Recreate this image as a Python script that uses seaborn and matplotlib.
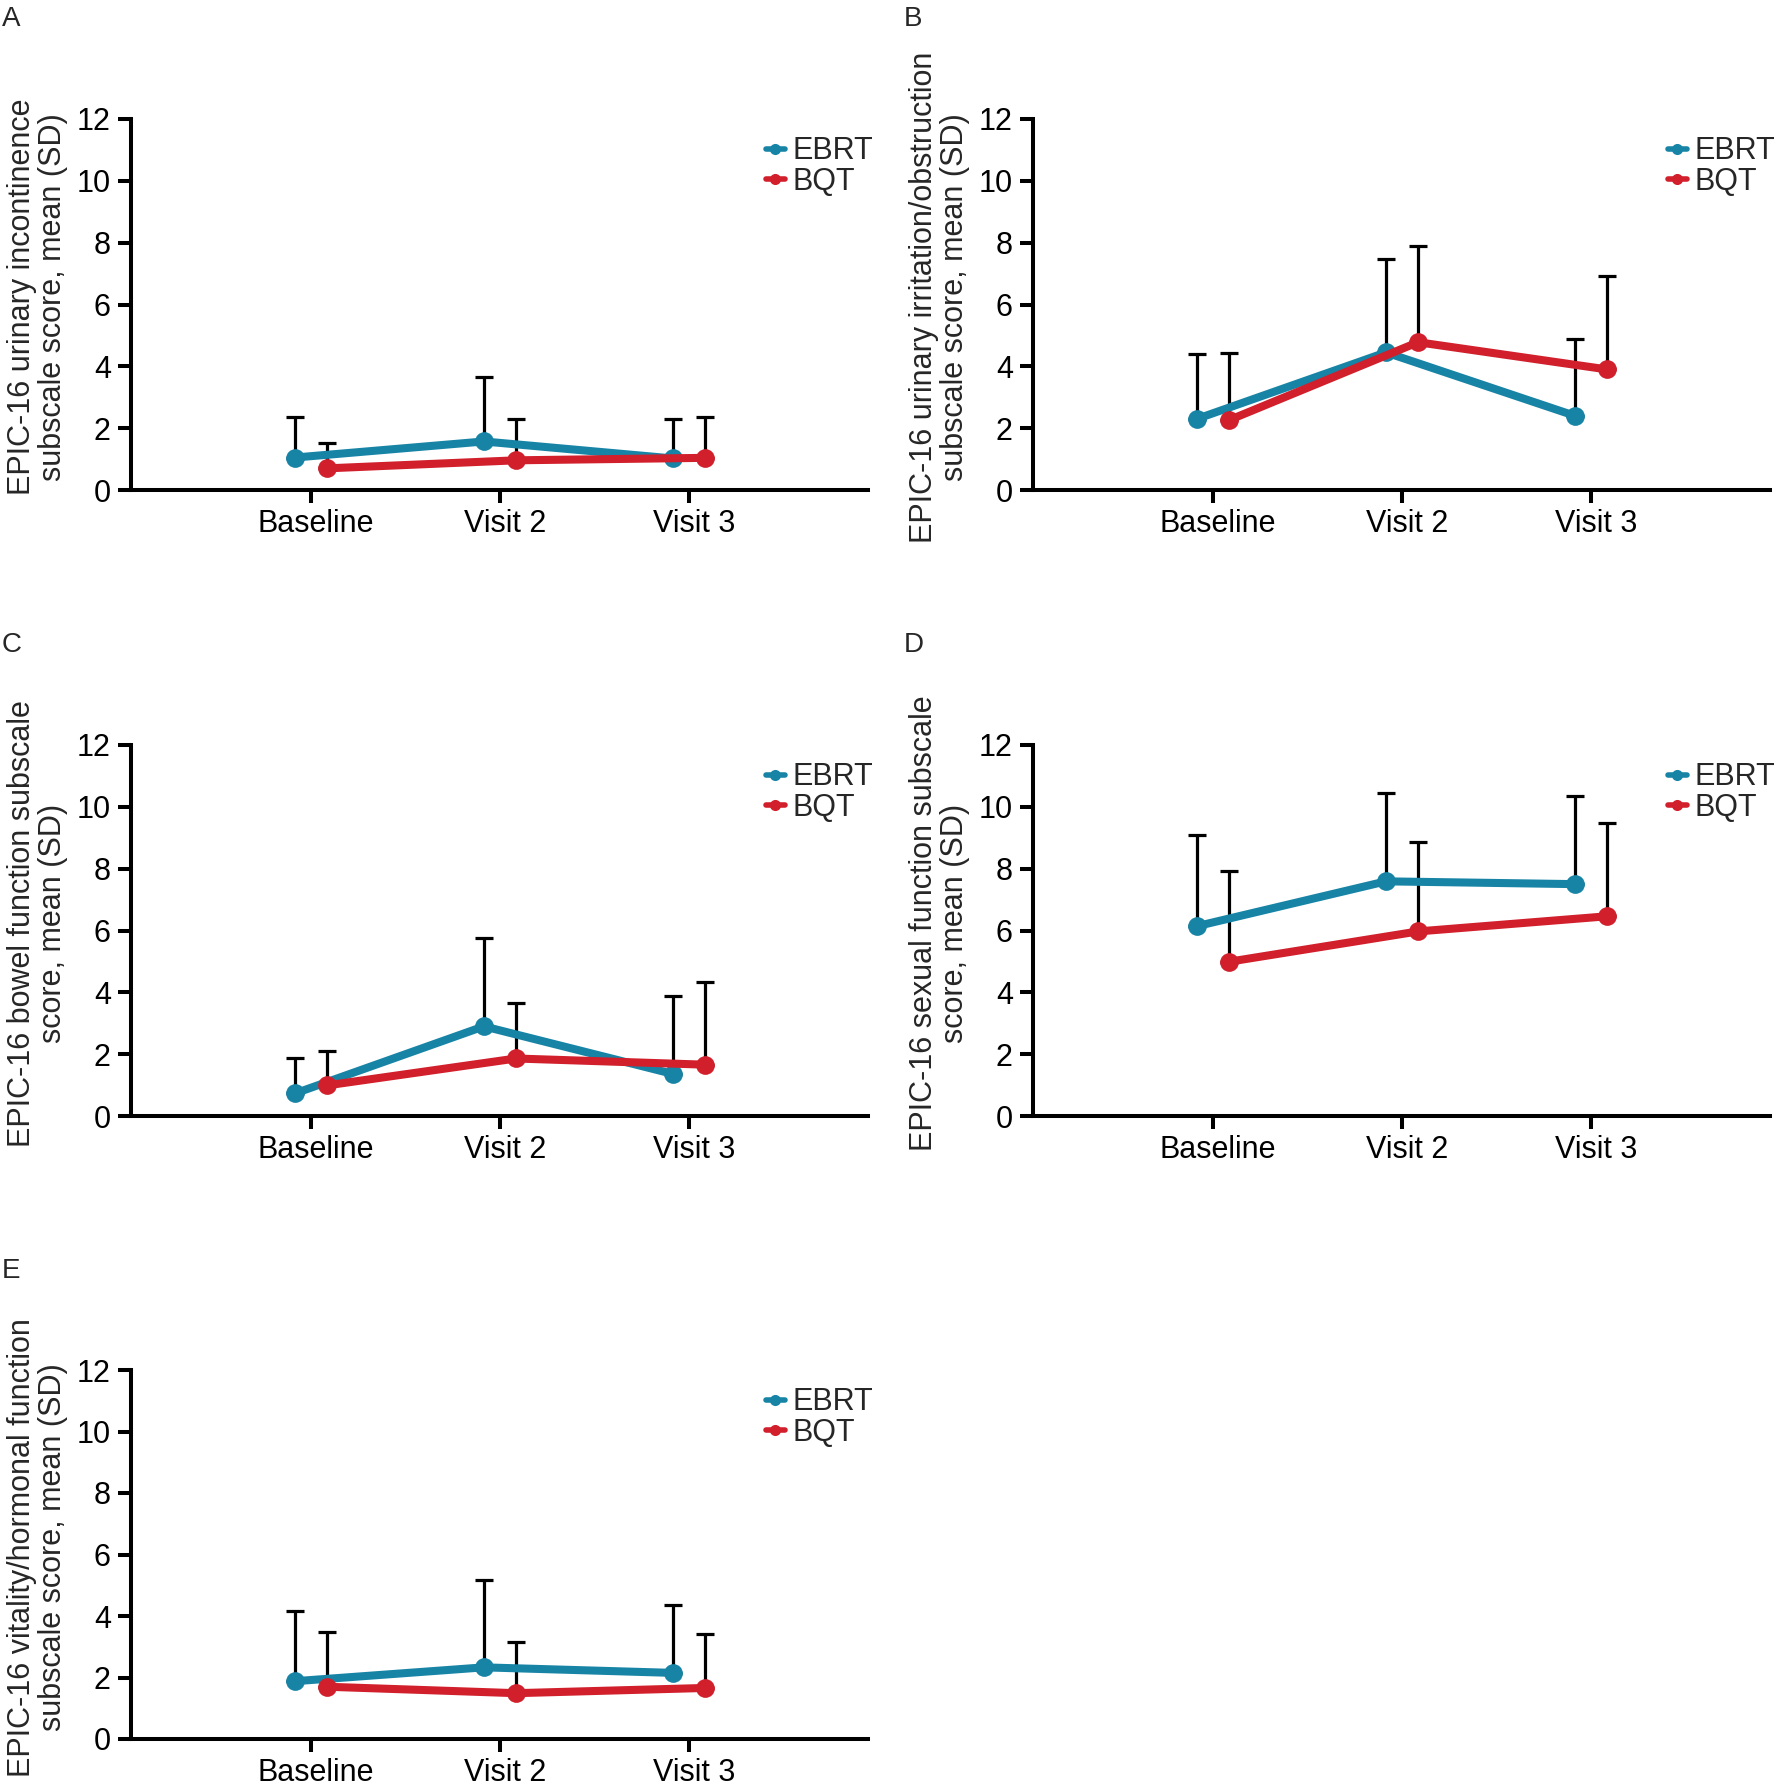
import numpy as np
import pandas as pd
import matplotlib
matplotlib.use("Agg")
import matplotlib.pyplot as plt
from matplotlib.lines import Line2D
from matplotlib.transforms import ScaledTranslation
import seaborn as sns

# ---------------- data ----------------
visits = ["Baseline", "Visit 2", "Visit 3"]
groups = ["EBRT", "BQT"]

panel_letters = ["A", "B", "C", "D", "E"]
panel_ylabels = [
    "EPIC-16 urinary incontinence\nsubscale score, mean (SD)",
    "EPIC-16 urinary irritation/obstruction\nsubscale score, mean (SD)",
    "EPIC-16 bowel function subscale\nscore, mean (SD)",
    "EPIC-16 sexual function subscale\nscore, mean (SD)",
    "EPIC-16 vitality/hormonal function\nsubscale score, mean (SD)",
]

# means and SD (upper bar length) per panel
ebrt_mean = [
    [1.05, 1.57, 1.02],
    [2.30, 4.45, 2.40],
    [0.73, 2.90, 1.36],
    [6.14, 7.59, 7.50],
    [1.88, 2.33, 2.15],
]
ebrt_sd = [
    [1.30, 2.08, 1.28],
    [2.11, 3.03, 2.47],
    [1.13, 2.87, 2.52],
    [2.96, 2.87, 2.84],
    [2.27, 2.83, 2.22],
]
bqt_mean = [
    [0.70, 0.96, 1.04],
    [2.26, 4.78, 3.90],
    [0.99, 1.86, 1.66],
    [4.99, 5.97, 6.46],
    [1.70, 1.49, 1.66],
]
bqt_sd = [
    [0.83, 1.34, 1.31],
    [2.17, 3.10, 3.03],
    [1.12, 1.79, 2.66],
    [2.92, 2.88, 3.01],
    [1.77, 1.67, 1.75],
]
y_ticks = [0, 2, 4, 6, 8, 10, 12]

# ---------------- style ----------------
colors = {"EBRT": "#1784A6", "BQT": "#D11F2C"}
dodge = 0.085
FONT = ["Liberation Sans", "DejaVu Sans"]

sns.set_theme(style="ticks")
plt.rcParams["font.family"] = FONT

W, H = 1776, 1784
fig = plt.figure(figsize=(W / 100, H / 100), dpi=100)

# axes rectangles in figure pixels (left, top, right, bottom)
rects = [
    (131, 119, 868, 490),
    (1033, 119, 1770, 490),
    (131, 745, 868, 1116),
    (1033, 745, 1770, 1116),
    (131, 1370, 868, 1739),
]
letter_pos = [(2, 6), (904, 6), (2, 632), (904, 632), (2, 1258)]

for i in range(5):
    l, t, r, b = rects[i]
    ax = fig.add_axes([l / W, 1 - b / H, (r - l) / W, (b - t) / H])

    rows = []
    for g, means, sds, off in (("EBRT", ebrt_mean[i], ebrt_sd[i], -dodge),
                               ("BQT", bqt_mean[i], bqt_sd[i], dodge)):
        for k, v in enumerate(visits):
            rows.append({"group": g, "visit": v, "x": k + off,
                         "mean": means[k], "sd": sds[k]})
    df = pd.DataFrame(rows)

    # error bars (upper only)
    for g in groups:
        d = df[df.group == g]
        ax.errorbar(d["x"], d["mean"], yerr=[np.zeros(len(d)), d["sd"]],
                    fmt="none", ecolor="black", elinewidth=2.3,
                    capsize=6.5, capthick=2.3, zorder=1)

    sns.lineplot(data=df, x="x", y="mean", hue="group", hue_order=groups,
                 palette=colors, marker="o", markersize=13.5,
                 markeredgewidth=0, linewidth=5.8, ax=ax, legend=False,
                 zorder=3, sort=False, estimator=None)

    ax.set_xlim(-0.952, 2.947)
    ax.set_ylim(0, 12)
    ax.set_xticks(range(len(visits)))
    ax.set_xticklabels(visits)
    ax.set_yticks(y_ticks)
    ax.set_xlabel("")
    ax.set_ylabel(panel_ylabels[i], fontsize=22, linespacing=1.05)
    ax.yaxis.set_label_coords(-0.085, 0.52)
    for s in ("top", "right"):
        ax.spines[s].set_visible(False)
    for s in ("left", "bottom"):
        ax.spines[s].set_linewidth(2.9)
        ax.spines[s].set_color("black")
    ax.tick_params(axis="both", direction="out", length=9.5, width=2.9,
                   color="black", labelsize=22, labelcolor="black")
    ax.tick_params(axis="x", pad=4)
    ax.tick_params(axis="y", pad=5)
    shift = ScaledTranslation(5 / 100, 0, fig.dpi_scale_trans)
    for lab in ax.get_xticklabels():
        lab.set_transform(lab.get_transform() + shift)

    handles = [Line2D([0], [0], color=colors[g], marker="o", markersize=8,
                      linewidth=4, markeredgewidth=0) for g in groups]
    ax.legend(handles, groups, loc="upper left",
              bbox_to_anchor=(0.862, 0.953), frameon=False, fontsize=22,
              handlelength=0.6, handletextpad=0.25, labelspacing=0.02,
              borderaxespad=0, borderpad=0)

    lx, ly = letter_pos[i]
    fig.text(lx / W, 1 - ly / H, panel_letters[i], fontsize=20,
             ha="left", va="top")

fig.savefig("out.png", dpi=100)
